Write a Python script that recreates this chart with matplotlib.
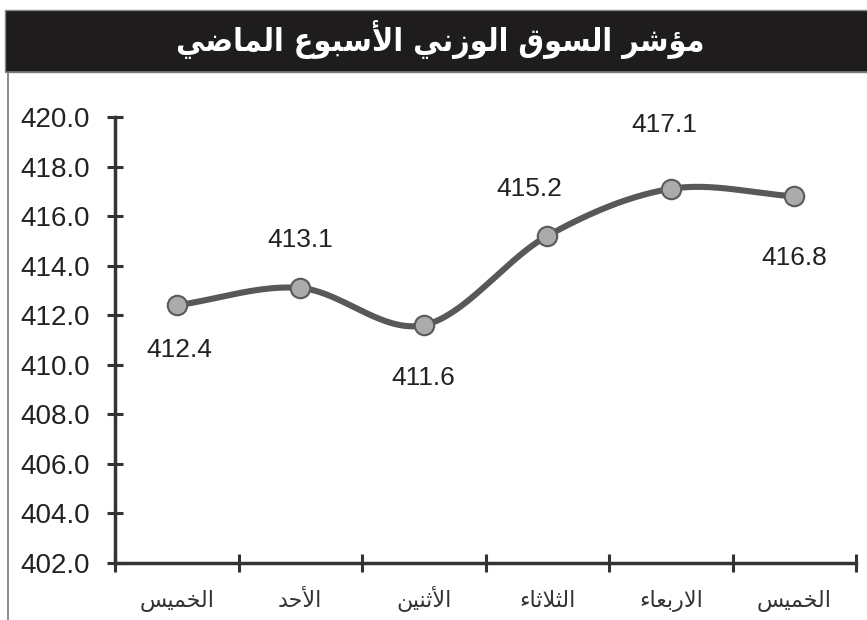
import matplotlib
matplotlib.use("Agg")
import matplotlib.pyplot as plt
import matplotlib.transforms as mtransforms
import numpy as np
from matplotlib.patches import Rectangle

# ---------------- data ----------------
title = "مؤشر السوق الوزني الأسبوع الماضي"
days = ["الخميس", "الأحد", "الأثنين", "الثلاثاء", "الاربعاء", "الخميس"]
values = [412.4, 413.1, 411.6, 415.2, 417.1, 416.8]
yticks = [402.0, 404.0, 406.0, 408.0, 410.0, 412.0, 414.0, 416.0, 418.0, 420.0]

# ---------------- minimal Arabic shaping ----------------
_forms = {}
def _add(ch, start, n):
    _forms[ch] = [chr(start + i) for i in range(n)]
_add('\u0621', 0xFE80, 1)
for ch, st in [('\u0622', 0xFE81), ('\u0623', 0xFE83), ('\u0624', 0xFE85), ('\u0625', 0xFE87),
               ('\u0627', 0xFE8D), ('\u0629', 0xFE93), ('\u062F', 0xFEA9), ('\u0630', 0xFEAB),
               ('\u0631', 0xFEAD), ('\u0632', 0xFEAF), ('\u0648', 0xFEED), ('\u0649', 0xFEEF)]:
    _add(ch, st, 2)
for ch, st in [('\u0626', 0xFE89), ('\u0628', 0xFE8F), ('\u062A', 0xFE95), ('\u062B', 0xFE99),
               ('\u062C', 0xFE9D), ('\u062D', 0xFEA1), ('\u062E', 0xFEA5), ('\u0633', 0xFEB1),
               ('\u0634', 0xFEB5), ('\u0635', 0xFEB9), ('\u0636', 0xFEBD), ('\u0637', 0xFEC1),
               ('\u0638', 0xFEC5), ('\u0639', 0xFEC9), ('\u063A', 0xFECD), ('\u0641', 0xFED1),
               ('\u0642', 0xFED5), ('\u0643', 0xFED9), ('\u0644', 0xFEDD), ('\u0645', 0xFEE1),
               ('\u0646', 0xFEE5), ('\u0647', 0xFEE9), ('\u064A', 0xFEF1)]:
    _add(ch, st, 4)
_lamalef = {'\u0622': ('\uFEF5', '\uFEF6'), '\u0623': ('\uFEF7', '\uFEF8'),
            '\u0625': ('\uFEF9', '\uFEFA'), '\u0627': ('\uFEFB', '\uFEFC')}

def shape(text):
    toks = []
    i = 0
    while i < len(text):
        c = text[i]
        if c == '\u0644' and i + 1 < len(text) and text[i + 1] in _lamalef:
            toks.append(('LA', _lamalef[text[i + 1]]))
            i += 2
        else:
            toks.append(('C', c))
            i += 1
    def nforms(t):
        if t[0] == 'LA':
            return 2
        return len(_forms.get(t[1], []))
    out = []
    for k, t in enumerate(toks):
        n = nforms(t)
        if n == 0:
            out.append(t[1])
            continue
        prev_c = k > 0 and nforms(toks[k - 1]) == 4
        next_c = n == 4 and k + 1 < len(toks) and nforms(toks[k + 1]) >= 2
        if t[0] == 'LA':
            out.append(t[1][1] if prev_c else t[1][0])
            continue
        f = _forms[t[1]]
        if n == 1:
            out.append(f[0])
        elif prev_c and next_c:
            out.append(f[3])
        elif prev_c:
            out.append(f[1])
        elif next_c:
            out.append(f[2])
        else:
            out.append(f[0])
    return ''.join(out)[::-1]

# ---------------- smooth curve helper (Catmull-Rom through the data points) ----------------
def smooth(x, y, n=40):
    x = np.asarray(x, float); y = np.asarray(y, float)
    px = np.concatenate([[2 * x[0] - x[1]], x, [2 * x[-1] - x[-2]]])
    py = np.concatenate([[2 * y[0] - y[1]], y, [2 * y[-1] - y[-2]]])
    xs, ys = [], []
    t = np.linspace(0, 1, n)
    def cr(p0, p1, p2, p3):
        return 0.5 * ((2 * p1) + (-p0 + p2) * t + (2 * p0 - 5 * p1 + 4 * p2 - p3) * t**2
                      + (-p0 + 3 * p1 - 3 * p2 + p3) * t**3)
    for i in range(1, len(px) - 2):
        xs.append(cr(px[i - 1], px[i], px[i + 1], px[i + 2]))
        ys.append(cr(py[i - 1], py[i], py[i + 1], py[i + 2]))
    return np.concatenate(xs), np.concatenate(ys)

# ---------------- figure ----------------
W, H = 867, 620
fig = plt.figure(figsize=(W / 100, H / 100), dpi=100)
fig.patch.set_facecolor("white")

# title banner and frame
fig.add_artist(Rectangle((5 / W, 1 - 72 / H), 1, 62 / H, transform=fig.transFigure,
                         facecolor="#1e1c1c", edgecolor="#888888", lw=1))
fig.add_artist(Rectangle((8 / W, -0.05), 1, 1 - 72 / H + 0.05, transform=fig.transFigure,
                         facecolor="none", edgecolor="#777777", lw=1.2))
fig.text(440 / W, 1 - 40 / H, shape(title), color="white", fontsize=23, fontweight="bold",
         fontstretch="condensed", family="DejaVu Sans", ha="center", va="center")

ax = fig.add_axes([115 / W, 1 - 563 / H, 741 / W, 446 / H])
n = len(values)
xc = np.arange(n) + 0.5
ax.set_xlim(0, n)
ax.set_ylim(402, 420)

sx, sy = smooth(xc, values)
ax.plot(sx, sy, color="#585858", lw=4.4, solid_capstyle="round", zorder=3)
ax.plot(xc, values, linestyle="none", marker="o", markersize=14, markerfacecolor="#ababab",
        markeredgecolor="#5a5a5a", markeredgewidth=1.5, zorder=4)

offsets = [(3, -45), (0, 48), (0, -53), (-18, 47), (-6, 64), (0, -62)]
for x, v, (dx, dy) in zip(xc, values, offsets):
    ax.annotate(f"{v:.1f}", (x, v), xytext=(dx * 0.72, dy * 0.72), textcoords="offset points",
                ha="center", va="center", fontsize=19, family="Liberation Sans", color="#222222")

for s in ["top", "right"]:
    ax.spines[s].set_visible(False)
for s in ["left", "bottom"]:
    ax.spines[s].set_linewidth(2.5)
    ax.spines[s].set_color("#333333")

ax.set_yticks(yticks)
ax.set_yticklabels([f"{t:.1f}" for t in yticks], fontsize=20, family="Liberation Sans", color="#222222")
ax.tick_params(axis="y", direction="inout", length=12, width=2.2, color="#333333", pad=12)

ax.set_xticks(np.arange(n + 1))
ax.set_xticklabels([])
ax.tick_params(axis="x", which="major", direction="inout", length=13, width=2.2, color="#333333")

trans = mtransforms.blended_transform_factory(ax.transData, ax.transAxes)
for x, d in zip(xc, days):
    ax.text(x, -(607 - 563) / 446, shape(d), transform=trans, ha="center", va="baseline",
            fontsize=16, family="DejaVu Sans", color="#333333", clip_on=False)

fig.savefig("out.png", dpi=100, facecolor="white")
